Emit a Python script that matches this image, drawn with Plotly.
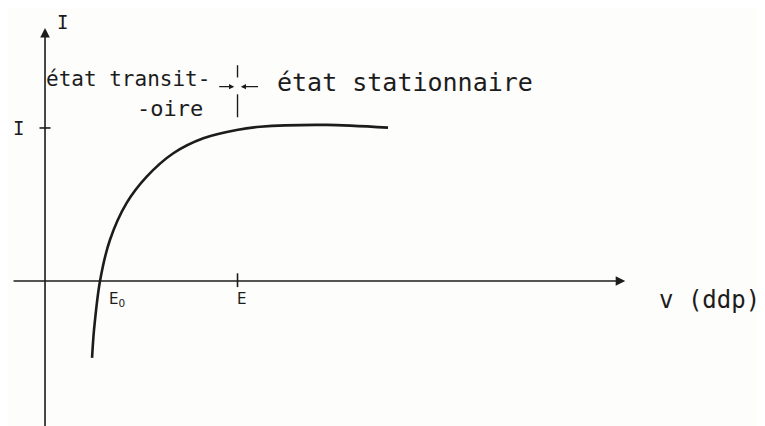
import plotly.graph_objects as go

# characteristic I = f(V) (V in units where E0 = 1, I in units of I_sat)
v_curve = [0.855, 0.891, 1.0, 1.18, 1.485, 1.849, 2.333, 2.878, 3.485, 3.909, 5.12, 6.236]
i_curve = [-0.503, -0.32, 0.0, 0.268, 0.51, 0.682, 0.835, 0.933, 0.987, 1.008, 1.02, 1.002]

e0_value = 1.0
e_value = 3.5
i_sat = 1.0

x_axis_span = [-0.6, 10.55]
y_axis_span = [-1.0, 1.654]

INK = "#1c1c1c"
FONT = "DejaVu Sans Mono"

fig = go.Figure()
fig.add_trace(go.Scatter(x=v_curve, y=i_curve, mode="lines",
                         line=dict(color=INK, width=2.6, shape="spline", smoothing=0.8),
                         hoverinfo="skip"))

# axes drawn by hand: lines ending in arrowheads
fig.add_annotation(x=x_axis_span[1], y=0, ax=x_axis_span[0], ay=0,
                   xref="x", yref="y", axref="x", ayref="y", text="",
                   showarrow=True, arrowhead=2, arrowsize=1.2, arrowwidth=1.6, arrowcolor=INK)
fig.add_annotation(x=0, y=y_axis_span[1], ax=0, ay=y_axis_span[0],
                   xref="x", yref="y", axref="x", ayref="y", text="",
                   showarrow=True, arrowhead=2, arrowsize=1.2, arrowwidth=1.6, arrowcolor=INK)

# tick marks for E and I
fig.add_shape(type="line", x0=e_value, x1=e_value, y0=-0.04, y1=0.05,
              line=dict(color=INK, width=1.6))
fig.add_shape(type="line", x0=-0.1, x1=0.1, y0=i_sat, y1=i_sat,
              line=dict(color=INK, width=1.6))

# boundary between the two regimes
fig.add_shape(type="line", x0=e_value, x1=e_value, y0=1.07, y1=1.22,
              line=dict(color=INK, width=1.4))
fig.add_shape(type="line", x0=e_value, x1=e_value, y0=1.33, y1=1.41,
              line=dict(color=INK, width=1.4))
fig.add_annotation(x=e_value - 0.06, y=1.27, ax=e_value - 0.36, ay=1.27,
                   xref="x", yref="y", axref="x", ayref="y", text="",
                   showarrow=True, arrowhead=2, arrowsize=0.8, arrowwidth=1.3, arrowcolor=INK)
fig.add_annotation(x=e_value + 0.06, y=1.27, ax=e_value + 0.4, ay=1.27,
                   xref="x", yref="y", axref="x", ayref="y", text="",
                   showarrow=True, arrowhead=2, arrowsize=0.8, arrowwidth=1.3, arrowcolor=INK)

labels = [
    ("I", 0.31, 1.69, 19, FONT),
    ("I", -0.49, i_sat, 19, FONT),
    ("E<sub>0</sub>", e0_value + 0.3, -0.12, 15, "DejaVu Sans"),
    ("E", e_value + 0.07, -0.115, 15, "DejaVu Sans"),
    ("v (ddp)", 12.09, -0.124, 24, FONT),
    ("état transit-", 1.51, 1.32, 21, FONT),
    ("-oire", 2.27, 1.13, 22, FONT),
    ("état stationnaire", 6.55, 1.30, 25, FONT),
]
for txt, x, y, size, family in labels:
    fig.add_annotation(x=x, y=y, text=txt, showarrow=False, xref="x", yref="y",
                       font=dict(family=family, size=size, color=INK))

# the page body adds an 8px offset, so the ranges are shifted to keep marks in place
fig.update_layout(
    width=765, height=426,
    margin=dict(l=0, r=0, t=0, b=0),
    paper_bgcolor="#fdfdfb", plot_bgcolor="#fdfdfb",
    showlegend=False,
    xaxis=dict(range=[-0.673, 13.236], visible=False, fixedrange=True),
    yaxis=dict(range=[-1.0, 1.784], visible=False, fixedrange=True),
)

fig.write_html("out.html")
